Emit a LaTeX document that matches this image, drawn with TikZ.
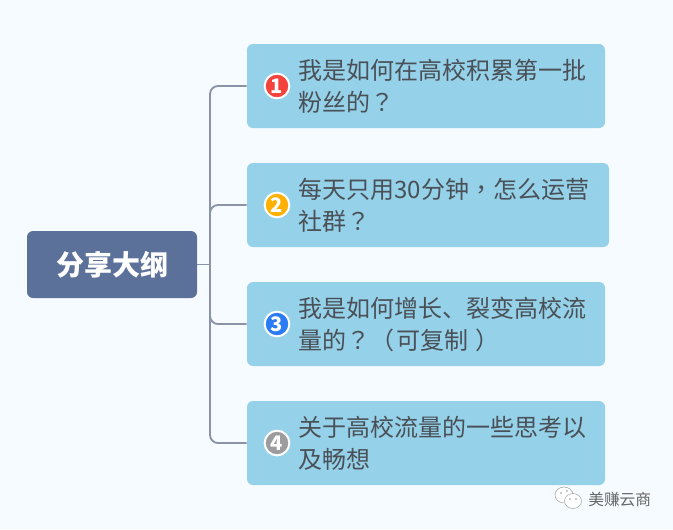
\documentclass[tikz,border=0pt]{standalone}
\usepackage{fontspec}
\setmainfont{Noto Sans CJK SC}
\newfontfamily\puncfont{Noto Sans CJK TC}
\usetikzlibrary{positioning}
\definecolor{pagebg}{HTML}{F6FBFF}
\definecolor{topicfill}{HTML}{95D1E8}
\definecolor{rootfill}{HTML}{5B7199}
\definecolor{branchcol}{HTML}{8A93A8}
\definecolor{textcol}{HTML}{4A5057}
\definecolor{badgered}{HTML}{F4433C}
\definecolor{badgeorange}{HTML}{FFB000}
\definecolor{badgeblue}{HTML}{2B7BF5}
\definecolor{badgegray}{HTML}{9C9C9E}
\tikzset{
	rootbox/.style={fill=rootfill,rounded corners=4.5pt,minimum width=127.5pt,minimum height=50.25pt,inner sep=0pt,text=white,font=\fontsize{21}{25}\selectfont\bfseries},
	topicbox/.style={fill=topicfill,rounded corners=4.5pt,minimum height=63pt,inner sep=0pt},
	badge/.style={circle,draw=white,line width=1.5pt,minimum size=18.5pt,inner sep=0pt,text=white,font=\fontsize{15}{15}\selectfont\bfseries},
	topictext/.style={right=5.9pt,inner sep=0pt,align=left,text=textcol,font=\fontsize{18}{24}\selectfont},
	branch/.style={draw=branchcol,line width=1.4pt,rounded corners=6pt},
	chat/.style={draw=gray!70,fill=white,line width=0.4pt}
}
\begin{document}
\begin{tikzpicture}[x=0.75pt,y=-0.75pt]
	\useasboundingbox[fill=pagebg] (0,0) rectangle (673,529);
	\node[rootbox] (root) at (112,264.5) {分享大纲};
	\node[topicbox,minimum width=268.5pt] (topicA) at (426,86) {};
	\node[topicbox,minimum width=271.5pt] (topicB) at (428,205) {};
	\node[topicbox,minimum width=268.5pt] (topicC) at (426,324) {};
	\node[topicbox,minimum width=268.5pt] (topicD) at (426,443) {};
	\coordinate (trunk) at (210,264.5);
	% branches
	\draw[branch] (root.east)--(trunk);
	\draw[branch] (trunk)|-(topicA.west);
	\draw[branch] (trunk)|-(topicB.west);
	\draw[branch] (trunk)|-(topicC.west);
	\draw[branch] (trunk)|-(topicD.west);
	% badges and texts
	\node[badge,fill=badgered] (badgeA) at (277,86) {1};
	\node[topictext] (textA) at (badgeA.east) {我是如何在高校积累第一批\\粉丝的{\puncfont ？}};
	\node[badge,fill=badgeorange] (badgeB) at (277,205) {2};
	\node[topictext] (textB) at (badgeB.east) {每天只用30分钟{\puncfont ，}怎么运营\\社群{\puncfont ？}};
	\node[badge,fill=badgeblue] (badgeC) at (277,324) {3};
	\node[topictext] (textC) at (badgeC.east) {我是如何增长、裂变高校流\\量的{\puncfont ？（}\kern1.5pt 可复制\kern5pt{\puncfont ）}};
	\node[badge,fill=badgegray] (badgeD) at (277,443) {4};
	\node[topictext] (textD) at (badgeD.east) {关于高校流量的一些思考以\\及畅想};
	% watermark
	\draw[chat] (564,495) ellipse (9 and 8);
	\draw[chat] (573,501) ellipse (8.5 and 7.5);
	\fill[gray!80] (561,493) circle (0.8) (567,491) circle (0.8) (570,499) circle (0.8) (576,499) circle (0.8);
	\node[anchor=west,inner sep=0pt,text=gray!80!black,font=\fontsize{11.8}{14}\selectfont] (mark) at (588,499) {美赚云商};
\end{tikzpicture}
\end{document}
